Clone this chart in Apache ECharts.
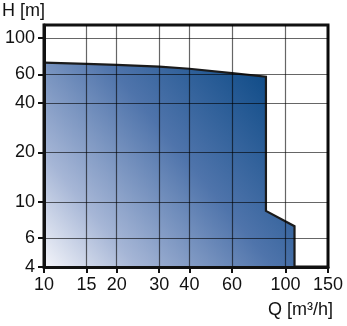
<!DOCTYPE html>
<html><head><meta charset="utf-8">
<script src="https://cdn.jsdelivr.net/npm/echarts@6/dist/echarts.min.js"></script>
<style>html,body{margin:0;padding:0;background:#fff}#c{width:347px;height:326px}</style>
</head><body><div id="c"></div>
<script>
// Envelope of the operating range (Q in m3/h, H in m)
const boundaryQ = [10, 10, 15, 20, 30, 40, 60, 83, 83, 109, 109];
const boundaryH = [4, 70.8, 69.5, 68.5, 66.9, 64.9, 61.0, 58, 8.8, 7.1, 4];
const xTicks = [10, 15, 20, 30, 40, 60, 100, 150];
const yTicks = [4, 6, 10, 20, 40, 60, 100];

const chart = echarts.init(document.getElementById('c'));
const font = '"Liberation Sans Narrow", "Liberation Sans", Arial, sans-serif';
chart.setOption({
  animation: false,
  grid: {left: 44, right: 19, top: 25, bottom: 59, show: true, borderColor: '#111', borderWidth: 3, backgroundColor: 'transparent'},
  xAxis: {
    type: 'log', min: 10, max: 150, z: 5,
    axisLine: {show: true, lineStyle: {color: '#111', width: 3}},
    axisTick: {show: true, customValues: xTicks, length: 6, lineStyle: {color: '#111', width: 2}},
    axisLabel: {customValues: xTicks, color: '#111', fontSize: 18, fontFamily: font, margin: 9, formatter: v => String(Math.round(v))},
    splitLine: {show: true, lineStyle: {color: 'rgba(0,0,0,0.6)', width: 1.2}},
    minorTick: {show: false}
  },
  yAxis: {
    type: 'log', min: 4, max: 120, z: 5,
    axisLine: {show: true, lineStyle: {color: '#111', width: 3}},
    axisTick: {show: true, customValues: yTicks, length: 6, lineStyle: {color: '#111', width: 2}},
    axisLabel: {customValues: yTicks, color: '#111', fontSize: 18, fontFamily: font, margin: 9, formatter: v => String(Math.round(v))},
    splitLine: {show: true, lineStyle: {color: 'rgba(0,0,0,0.6)', width: 1.2}}
  },
  graphic: [
    {type: 'text', left: 2, top: 2, style: {text: 'H [m]', fill: '#111', font: '18px ' + font}},
    {type: 'text', left: 268, top: 301, style: {text: 'Q [m³/h]', fill: '#111', font: '18px ' + font}}
  ],
  series: [{
    type: 'custom',
    coordinateSystem: 'cartesian2d',
    z: 2,
    data: [[boundaryQ[0], boundaryH[0]]],
    renderItem: function (params, api) {
      const pts = boundaryQ.map((q, i) => api.coord([q, boundaryH[i]]));
      return {
        type: 'group',
        children: [
          {type: 'polygon', shape: {points: pts}, style: {
            fill: new echarts.graphic.LinearGradient(0, 1, 1, 0, [
              {offset: 0, color: '#f4f5fa'},
              {offset: 0.22, color: '#a6b6d6'},
              {offset: 0.55, color: '#4f74ab'},
              {offset: 1, color: '#00427f'}
            ]), stroke: null}},
          {type: 'polyline', shape: {points: pts.slice(1)}, style: {stroke: '#1b1b1b', lineWidth: 2.2, fill: null}}
        ]
      };
    }
  }]
});
</script></body></html>
